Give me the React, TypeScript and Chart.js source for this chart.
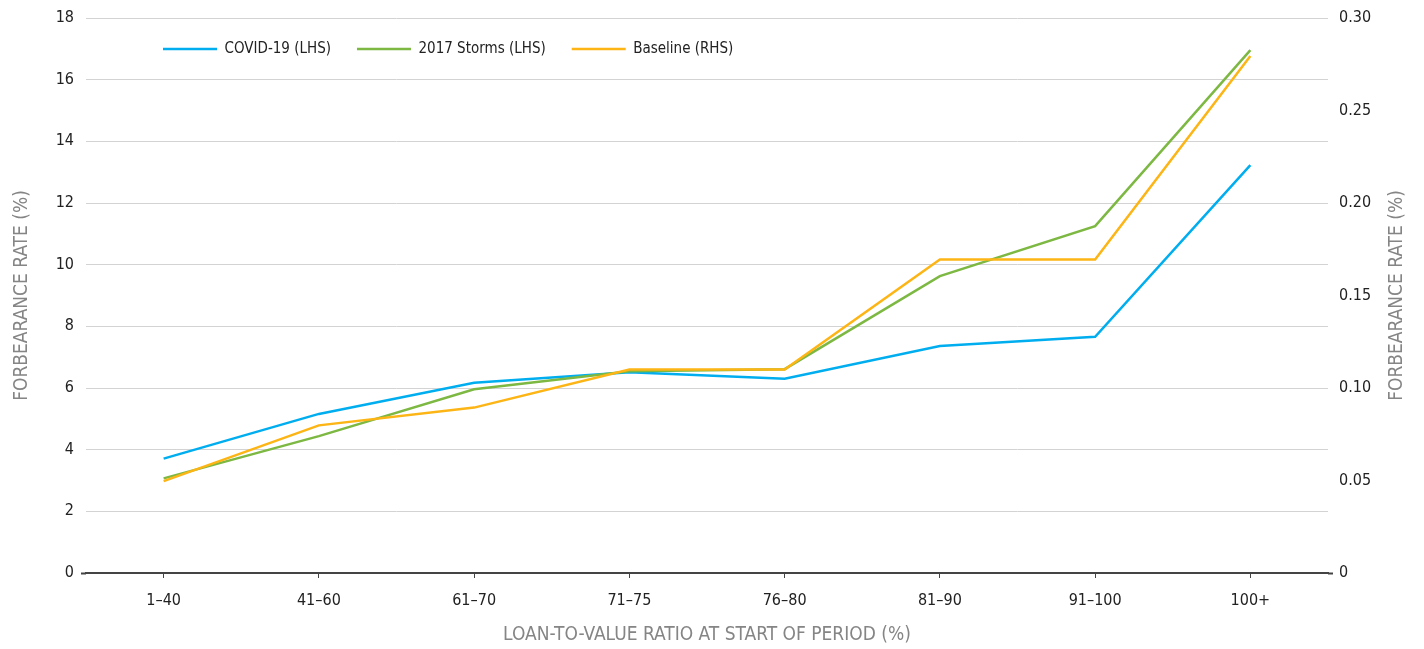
import React, { useEffect, useRef } from "react";
import { Chart, registerables } from "chart.js";

Chart.register(...registerables);

const categories = ["1–40", "41–60", "61–70", "71–75", "76–80", "81–90", "91–100", "100+"];
const covidLHS = [3.71, 5.16, 6.17, 6.51, 6.3, 7.36, 7.66, 13.23];
const stormsLHS = [3.07, 4.44, 5.96, 6.54, 6.61, 9.63, 11.25, 16.96];
const baselineRHS = [0.0497, 0.0798, 0.0894, 0.11, 0.11, 0.1695, 0.1695, 0.2795];
const seriesNames = ["COVID-19 (LHS)", "2017 Storms (LHS)", "Baseline (RHS)"];
const leftAxis = { min: 0, max: 18, step: 2 };
const rightAxis = { min: 0, max: 0.3, step: 0.05 };
const yTitle = "FORBEARANCE RATE (%)";
const xTitle = "LOAN-TO-VALUE RATIO AT START OF PERIOD (%)";

const FONT = "'Liberation Sans Narrow', 'DejaVu Sans Condensed', Roboto, sans-serif";
const COLORS = ["#00AEEF", "#7DB843", "#FDB515"];
const AXIS_DARK = "#444444";
const GRID = "#d3d3d3";
const TITLE_GRAY = "#858585";

const LEGEND_X = 163;
const LEGEND_Y = 49;

const customPlugin = {
  id: "customLayout",
  beforeLayout(chart: any) {
    const lg = chart.legend;
    if (lg && !lg._patchedFit) {
      const orig = lg.fit.bind(lg);
      lg.fit = function () {
        orig();
        this._realHeight = this.height;
        this.height = 0;
      };
      lg._patchedFit = true;
    }
  },
  afterLayout(chart: any) {
    const lg = chart.legend;
    if (!lg) return;
    const pad = lg.options.labels.padding;
    const fs = lg.options.labels.font.size;
    const dx = LEGEND_X - pad - lg.left;
    lg.left += dx;
    lg.right += dx;
    lg.top = LEGEND_Y - pad - fs / 2;
    lg.bottom = lg.top + (lg._realHeight || 40);
    lg.height = lg.bottom - lg.top;
  },
  afterDraw(chart: any) {
    const ctx = chart.ctx;
    const sc = chart.scales.y1;
    const { top, bottom } = chart.chartArea;
    ctx.save();
    ctx.translate(sc.right - 27, (top + bottom) / 2);
    ctx.rotate(-Math.PI / 2);
    ctx.font = `19px ${FONT}`;
    ctx.fillStyle = TITLE_GRAY;
    ctx.textAlign = "center";
    ctx.textBaseline = "middle";
    ctx.fillText(yTitle, 0, 0);
    ctx.restore();
  },
};

export default function App() {
  const ref = useRef<HTMLCanvasElement | null>(null);

  useEffect(() => {
    if (!ref.current) return;
    const mk = (label: string, data: number[], color: string, axis: string, order: number) => ({
      label,
      data,
      borderColor: color,
      backgroundColor: color,
      borderWidth: 2.5,
      pointRadius: 0,
      pointHoverRadius: 0,
      tension: 0,
      yAxisID: axis,
      order,
    });
    const chart = new Chart(ref.current, {
      type: "line",
      data: {
        labels: categories,
        datasets: [
          mk(seriesNames[0], covidLHS, COLORS[0], "y", 2),
          mk(seriesNames[1], stormsLHS, COLORS[1], "y", 1),
          mk(seriesNames[2], baselineRHS, COLORS[2], "y1", 0),
        ],
      },
      options: {
        animation: false,
        responsive: true,
        maintainAspectRatio: false,
        layout: { padding: { top: 18, left: 0, right: 0, bottom: 3 } },
        plugins: {
          tooltip: { enabled: false },
          legend: {
            position: "top",
            align: "start",
            labels: {
              usePointStyle: true,
              pointStyle: "line",
              pointStyleWidth: 54,
              boxHeight: 15,
              padding: 26,
              color: "#222",
              font: { family: FONT, size: 15 },
              sort: (a: any, b: any) => a.datasetIndex - b.datasetIndex,
            },
          },
        },
        scales: {
          x: {
            offset: true,
            grid: {
              display: true,
              offset: false,
              drawOnChartArea: false,
              drawTicks: true,
              tickLength: 5,
              tickColor: AXIS_DARK,
              tickWidth: 1,
            },
            border: { display: true, color: AXIS_DARK, width: 2 },
            ticks: { color: "#222", font: { family: FONT, size: 16 }, padding: 13, maxRotation: 0 },
            title: {
              display: true,
              text: xTitle,
              color: TITLE_GRAY,
              font: { family: FONT, size: 19 },
              padding: { top: 4, bottom: 0 },
            },
            afterFit: (s: any) => {
              s.height = 73;
            },
          },
          y: {
            position: "left",
            min: leftAxis.min,
            max: leftAxis.max,
            ticks: { stepSize: leftAxis.step, color: "#222", font: { family: FONT, size: 16 }, padding: 7 },
            grid: {
              color: (c: any) => (c.tick && c.tick.value === 0 ? "rgba(0,0,0,0)" : GRID),
              lineWidth: 1,
              drawTicks: true,
              tickLength: 5,
              tickColor: (c: any) => (c.tick && c.tick.value === 0 ? AXIS_DARK : "rgba(0,0,0,0)"),
              tickWidth: 2,
            },
            border: { display: false },
            title: {
              display: true,
              text: yTitle,
              color: TITLE_GRAY,
              font: { family: FONT, size: 19 },
              padding: { top: 11, bottom: 0 },
            },
            afterFit: (s: any) => {
              s.width = 86;
            },
          },
          y1: {
            position: "right",
            min: rightAxis.min,
            max: rightAxis.max,
            ticks: {
              stepSize: rightAxis.step,
              color: "#222",
              font: { family: FONT, size: 16 },
              padding: 6,
              callback: (v: any) => (Number(v) === 0 ? "0" : Number(v).toFixed(2)),
            },
            grid: {
              drawOnChartArea: false,
              drawTicks: true,
              tickLength: 5,
              tickColor: (c: any) => (c.tick && c.tick.value === 0 ? AXIS_DARK : "rgba(0,0,0,0)"),
              tickWidth: 2,
            },
            border: { display: false },
            title: { display: false },
            afterFit: (s: any) => {
              s.width = 96;
            },
          },
        },
      },
      plugins: [customPlugin],
    });
    return () => chart.destroy();
  }, []);

  return (
    <div style={{ position: "absolute", left: 0, top: 0, width: 1424, height: 649, background: "#fff" }}>
      <canvas ref={ref} />
    </div>
  );
}
